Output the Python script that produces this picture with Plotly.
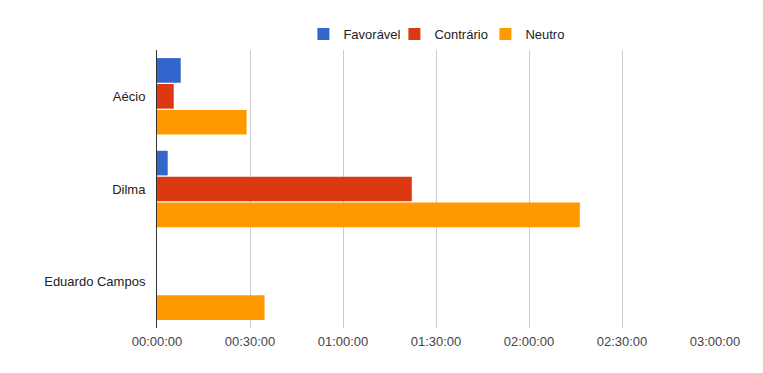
import plotly.graph_objects as go

categories = ["Aécio", "Dilma", "Eduardo Campos"]
series_names = ["Favorável", "Contrário", "Neutro"]
favoravel = [459, 207, 0]      # seconds
contrario = [324, 4932, 0]
neutro = [1734, 8184, 2082]
tick_values = [0, 1800, 3600, 5400, 7200, 9000, 10800]
tick_labels = ["00:00:00", "00:30:00", "01:00:00", "01:30:00", "02:00:00", "02:30:00", "03:00:00"]
colors = ["#3366cc", "#dc3912", "#ff9900"]

fig = go.Figure()
for name, vals, col in zip(series_names, [favoravel, contrario, neutro], colors):
    fig.add_trace(go.Bar(
        y=categories, x=vals, name=name, orientation="h",
        marker=dict(color=col, line=dict(width=0)),
    ))

fig.update_layout(
    width=755, height=365,
    margin=dict(l=149, r=48, t=41, b=45),
    paper_bgcolor="white", plot_bgcolor="white",
    barmode="group", bargap=0.161, bargroupgap=0.05,
    font=dict(family="Arial, Liberation Sans, sans-serif", size=13, color="#222222"),
    legend=dict(orientation="h", x=0.507, xanchor="center", y=1.0, yanchor="bottom",
                font=dict(size=13, color="#222222"), traceorder="normal",
                entrywidth=46, bgcolor="rgba(0,0,0,0)"),
    xaxis=dict(range=[0, 10800], tickvals=tick_values, ticktext=tick_labels,
               showgrid=True, gridcolor="#cccccc", gridwidth=1, zeroline=False,
               showline=False, ticks="", automargin=False, ticklabelstandoff=4,
               tickfont=dict(color="#444444", size=13)),
    yaxis=dict(autorange="reversed", showline=True, linecolor="#333333", linewidth=1,
               showgrid=False, ticks="", ticklabelstandoff=8, automargin=False,
               tickfont=dict(color="#222222", size=13)),
)

fig.write_html("out.html")
